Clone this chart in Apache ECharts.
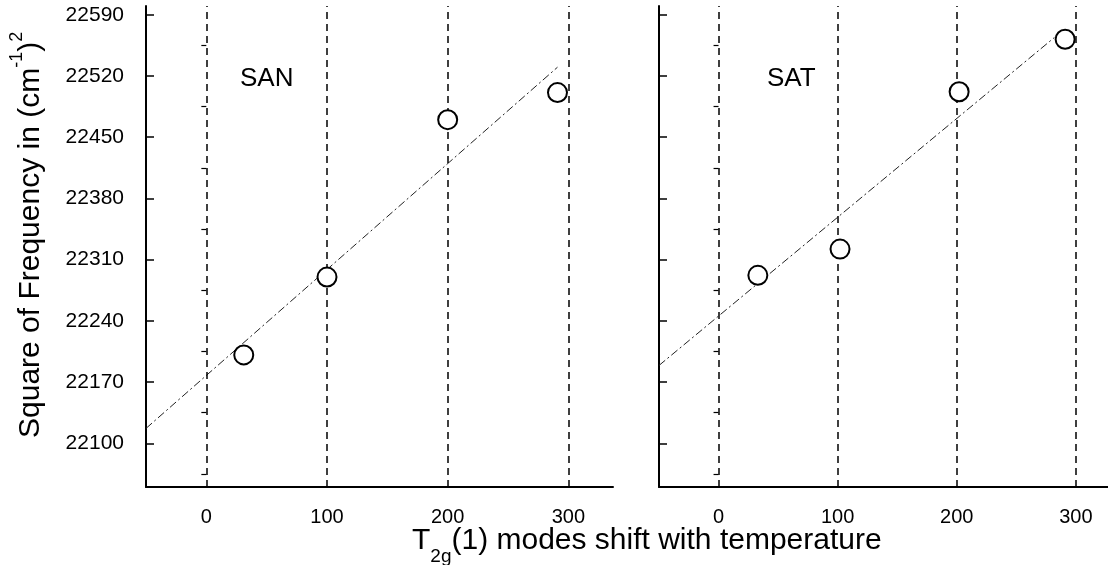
<!DOCTYPE html>
<html>
<head>
<meta charset="utf-8">
<script src="https://cdn.jsdelivr.net/npm/echarts@6/dist/echarts.min.js"></script>
<style>html,body{margin:0;padding:0;background:#fff}#c{width:1108px;height:565px}</style>
</head>
<body>
<div id="c"></div>
<script>
// ---- data ----
const xTicks = [0, 100, 200, 300];
const yTicks = [22100, 22170, 22240, 22310, 22380, 22450, 22520, 22590];
const yMinorTicks = [22065, 22135, 22205, 22275, 22345, 22415, 22485, 22555];
const sanX = [31, 100, 200, 291];
const sanY = [22201, 22290, 22470, 22501];
const satX = [33, 102, 202, 291];
const satY = [22292, 22322, 22502, 22562];
const sanFitX = [-50, 291];
const sanFitY = [22117, 22530];
const satFitX = [-50, 282];
const satFitY = [22189, 22564];
const panelNames = ['SAN', 'SAT'];

const FONT = '"Liberation Sans", Arial, sans-serif';
const chart = echarts.init(document.getElementById('c'), null, {renderer: 'canvas'});

function xAxis(grid, max) {
  return {
    type: 'value', gridIndex: grid, min: -50, max: max,
    axisLine: {show: true, onZero: false, lineStyle: {color: '#000', width: 2}},
    axisTick: {show: false},
    splitLine: {show: false},
    axisLabel: {customValues: xTicks, color: '#000', fontSize: 20, fontFamily: FONT, margin: 20,
      formatter: v => String(v)}
  };
}
function yMajor(grid, labels) {
  return {
    type: 'value', gridIndex: grid, min: 22050, max: 22600,
    axisLine: {show: true, onZero: false, lineStyle: {color: '#000', width: 2}},
    axisTick: {show: true, inside: true, length: 8, customValues: yTicks, lineStyle: {color: '#000', width: 1.5}},
    splitLine: {show: false},
    axisLabel: {show: labels, customValues: yTicks, color: '#000', fontSize: 21, fontFamily: FONT, margin: 22,
      formatter: v => String(v)}
  };
}
function yMinor(grid) {
  return {
    type: 'value', gridIndex: grid, min: 22050, max: 22600,
    axisLine: {show: false},
    axisTick: {show: true, inside: true, length: 5, customValues: yMinorTicks, lineStyle: {color: '#000', width: 1.2}},
    splitLine: {show: false},
    axisLabel: {show: false}
  };
}
function pts(xs, ys) { return xs.map((x, i) => [x, ys[i]]); }
function scatter(xi, yi, xs, ys) {
  return {
    type: 'scatter', xAxisIndex: xi, yAxisIndex: yi, data: pts(xs, ys),
    symbol: 'emptyCircle', symbolSize: 19, z: 5,
    itemStyle: {color: '#000', borderColor: '#000', borderWidth: 1.8, opacity: 1},
    silent: true,
    markLine: {
      silent: true, symbol: 'none', animation: false,
      label: {show: false},
      lineStyle: {color: '#000', width: 1.5, type: [7, 5]},
      data: xTicks.map(v => ({xAxis: v}))
    }
  };
}
function fit(xi, yi, xs, ys) {
  return {
    type: 'line', xAxisIndex: xi, yAxisIndex: yi, data: pts(xs, ys),
    showSymbol: false, silent: true, z: 3,
    lineStyle: {color: '#222', width: 1, type: [8, 3, 2, 3]}
  };
}

const option = {
  animation: false,
  backgroundColor: '#fff',
  textStyle: {fontFamily: FONT},
  grid: [
    {left: 146, top: 6, width: 467, bottom: 78},
    {left: 659, top: 6, right: 0, bottom: 78}
  ],
  xAxis: [xAxis(0, 337), xAxis(1, 327)],
  yAxis: [yMajor(0, true), yMinor(0), yMajor(1, false), yMinor(1)],
  series: [
    fit(0, 0, sanFitX, sanFitY),
    scatter(0, 0, sanX, sanY),
    fit(1, 2, satFitX, satFitY),
    scatter(1, 2, satX, satY)
  ],
  graphic: [
    {type: 'text', left: 240, top: 66, style: {text: panelNames[0], font: '26px ' + FONT, fill: '#000'}},
    {type: 'text', left: 767, top: 66, style: {text: panelNames[1], font: '26px ' + FONT, fill: '#000'}},
    {
      type: 'text', x: 8, y: 438, rotation: Math.PI / 2, originX: 0, originY: 0,
      style: {
        text: '{n|Square of Frequency in (cm}{s|-1}{n|)}{s|2}',
        fill: '#000',
        rich: {
          n: {fontSize: 30, fontFamily: FONT, lineHeight: 38, verticalAlign: 'bottom'},
          s: {fontSize: 18, fontFamily: FONT, lineHeight: 38, verticalAlign: 'top'}
        }
      }
    },
    {
      type: 'text', x: 412, y: 526,
      style: {
        text: '{n|T}{b|2g}{n|(1) modes shift with temperature}',
        fill: '#000',
        rich: {
          n: {fontSize: 30, fontFamily: FONT, lineHeight: 40, verticalAlign: 'top'},
          b: {fontSize: 19, fontFamily: FONT, lineHeight: 40, verticalAlign: 'bottom'}
        }
      }
    }
  ]
};
chart.setOption(option);
</script>
</body>
</html>
